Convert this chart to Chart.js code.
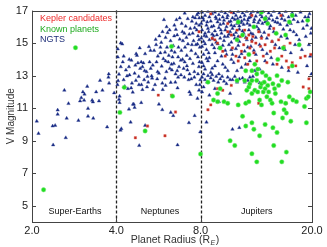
<!DOCTYPE html>
<html>
<head>
<meta charset="utf-8">
<script src="https://cdn.jsdelivr.net/npm/chart.js"></script>
<title>V magnitude vs planet radius</title>
<style>
html, body { margin: 0; padding: 0; background: #fff; }
#wrap { width: 327px; height: 247px; }
</style>
</head>
<body>
<div id="wrap"><canvas id="c"></canvas></div>
<script>
// axis ticks and regions
const xTicks = [2, 4, 8, 20];
const yTicks = [5, 7, 9, 11, 13, 15, 17];
const regionBounds = [4, 8];
const regionNames = ['Super-Earths', 'Neptunes', 'Jupiters'];
const regionLabelX = [2.85, 5.73, 12.7];
const seriesNames = ['Kepler candidates', 'Known planets', 'NGTS'];

// [radius, V mag]
const kepler = [
  [5.65,11.8],[6.3,11.8],[6.51,10.76],[5.17,9.9],[4.68,9.18],[5.97,9.3],[7.9,15.7],
  [8.8,15.3],[9.0,15.2],[9.2,15.0],[9.6,14.5],[9.8,14.2],[10.0,16.2],[10.0,15.7],[10.3,15.5],
  [10.4,14.7],[10.7,14.2],[10.8,15.8],[10.9,13.9],[11.1,15.4],[11.2,14.5],[11.4,14.9],[11.5,14.1],
  [11.5,15.8],[11.7,15.3],[11.8,13.7],[11.9,15.5],[12.0,14.7],[12.2,15.1],[12.3,15.4],[12.4,14.4],
  [12.6,15.0],[12.7,13.9],[12.9,15.7],[13.1,14.8],[13.2,15.3],[13.4,14.2],[13.6,14.9],[13.8,13.8],
  [14.0,15.5],[14.2,14.5],[14.4,15.1],[14.6,15.9],[14.7,14.7],[15.0,13.7],[15.2,15.2],[15.6,14.2],
  [15.9,14.8],[16.2,13.9],[16.5,13.5],[16.7,15.0],[17.0,13.8],[17.5,13.6],[18.2,14.1],[18.9,14.2],
  [19.5,12.8],[19.8,14.3],[19.5,12.2],[18.6,12.3],[9.2,12.2],[9.6,12.1],[8.7,11.2],[8.5,10.9],
  [10.3,12.4],[12.9,11.3],[16.2,11.3],[8.7,16.8],[10.3,16.9],[12.2,16.7],[15.5,16.7]
];

const known = [
  [2.86,14.72],[2.2,5.98],[4.27,12.28],[4.12,10.74],[5.07,9.6],[6.3,14.8],[6.35,11.74],[8.0,8.18],
  [8.5,12.6],[9.2,11.9],[9.4,12.2],[9.2,11.4],[9.7,11.4],[9.4,14.7],[10.9,11.2],[10.8,12.7],
  [11.3,10.5],[11.5,12.7],[11.6,11.3],[11.6,9.9],[11.7,12.1],[11.9,12.3],[11.9,11.4],[12.0,12.5],
  [12.2,11.9],[12.2,12.7],[12.4,9.7],[12.5,12.1],[12.7,13.1],[12.7,12.7],[12.8,13.4],[12.8,12.0],
  [13.0,11.5],[13.1,12.3],[13.2,11.2],[13.2,12.5],[13.3,13.2],[13.4,12.0],[13.5,12.6],[13.6,12.2],
  [13.7,13.0],[13.8,11.7],[13.9,12.4],[14.0,12.0],[14.1,12.8],[14.2,11.5],[14.4,11.3],[14.5,12.5],
  [14.6,10.7],[14.7,12.2],[14.8,11.9],[15.0,13.0],[15.2,12.4],[15.5,11.4],[15.6,12.7],[15.7,10.4],
  [15.9,10.9],[16.1,11.3],[16.2,10.7],[16.4,12.6],[16.6,11.7],[16.8,10.2],[17.1,11.5],[17.6,11.4],
  [18.8,11.1],[19.1,11.6],[19.4,11.7],[19.7,12.0],[19.1,10.1],[10.2,9.0],[10.6,8.7],[12.2,8.2],
  [12.7,7.7],[15.6,7.7],[16.2,8.3],[14.6,8.7],[13.0,9.3],[13.6,10.0],[14.5,9.8],[15.0,9.5],
  [12.2,10.1],[10.0,11.3],[12.2,13.3],[11.6,13.3],[10.8,15.2],[10.9,16.3],[11.3,15.5],[12.4,16.0],
  [13.6,16.5],[13.9,16.2],[14.9,15.6],[16.1,15.5],[16.6,16.3],[17.0,16.7],[18.0,14.9],[19.3,16.4],
  [12.5,13.7],[11.9,14.3],[15.1,14.0],[17.0,13.6],[15.8,14.7],[13.2,16.9],[8.9,11.5]
];

const ngts = [
  // super-earths
  [2.08,10.2],[2.11,9.44],[2.37,9.9],[2.42,9.94],[2.38,8.74],[2.47,10.88],[2.47,10.62],[2.61,12.1],
  [2.64,9.18],[2.66,10.38],[2.7,11.28],[2.93,10.24],[2.97,11.44],[3.0,11.64],[3.04,12.0],[3.08,11.86],
  [3.07,11.48],[3.15,12.34],[3.17,10.98],[3.17,10.5],[3.28,11.48],[3.3,11.38],[3.31,10.38],[3.39,12.0],
  [3.47,11.44],[3.5,12.7],[3.57,12.1],[3.71,9.84],[3.76,13.1],[3.75,12.9],[3.77,12.54],[3.93,11.94],
  // neptunes
  [4.05,14.64],[4.05,14.14],[4.09,13.08],[4.06,12.68],[4.04,12.44],[4.2,14.94],[4.22,13.84],[4.15,13.54],
  [4.11,11.74],[4.09,11.54],[4.11,11.34],[4.14,9.64],[4.17,9.74],[4.25,12.74],[4.29,12.34],[4.33,13.34],
  [4.37,12.98],[4.44,13.54],[4.46,13.04],[4.53,13.94],[4.52,12.24],[4.55,12.54],[4.58,11.98],[4.59,11.24],
  [4.62,11.24],[4.65,13.14],[4.68,13.64],[4.71,14.34],[4.74,14.24],[4.78,13.78],[4.81,12.94],[4.82,12.44],
  [4.87,13.44],[4.91,13.84],[4.92,12.44],[4.91,11.34],[4.96,13.54],[4.96,12.14],[5.0,13.78],[5.03,12.74],
  [5.07,14.34],[5.13,13.24],[5.15,12.3],[5.17,12.94],[5.23,14.78],[5.26,13.84],[5.31,13.44],[5.35,12.98],
  [5.37,12.84],[5.4,13.64],[5.41,12.14],[5.46,14.54],[5.5,12.44],[5.53,15.22],[5.57,13.84],[5.62,13.24],
  [5.63,14.2],[5.68,13.14],[5.7,15.44],[5.75,14.74],[5.79,15.04],[5.81,13.58],[5.84,12.54],[5.86,12.14],
  [5.89,14.04],[5.92,16.44],[5.97,12.84],[5.97,14.44],[6.0,15.34],[6.04,13.24],[6.07,14.74],[6.1,15.64],
  [6.13,13.84],[6.16,14.24],[6.21,13.44],[6.25,15.14],[6.26,12.58],[6.3,14.54],[6.32,13.34],[6.35,14.14],
  [6.39,14.84],[6.42,13.74],[6.44,15.44],[6.47,14.44],[6.51,13.1],[6.53,15.84],[6.56,16.44],[6.62,12.24],
  [6.65,14.14],[6.67,14.74],[6.7,13.54],[6.74,15.24],[6.8,13.94],[6.81,13.04],[6.83,14.54],[6.89,15.7],
  [6.92,15.14],[6.96,13.44],[7.02,13.84],[7.04,14.74],[7.08,16.04],[7.12,15.34],[7.14,14.24],[7.18,13.34],
  [7.21,14.94],[7.25,12.74],[7.29,15.54],[7.33,14.04],[7.37,11.84],[7.41,14.54],[7.45,16.34],[7.51,13.74],
  [7.55,15.14],[7.6,13.24],[7.62,15.94],[7.68,14.34],[7.72,12.44],[7.77,16.74],[7.83,15.44],[7.89,13.54],
  [7.91,16.1],[7.95,14.74],[7.83,14.14],[7.62,10.54],[7.27,10.1],[6.62,8.74],[5.84,10.9],[6.26,10.74],
  [5.68,11.24],[6.39,10.54],[5.07,9.94],[4.83,8.7],[4.65,11.04],[4.5,10.14],[4.44,10.94],
  [7.91,16.54],[7.8,14.94],[7.93,13.84],[7.83,13.1],[7.98,12.74],[7.72,16.2],[7.51,16.6],[7.02,16.84],
  [6.74,16.54],[7.31,13.1],[7.41,12.8],[6.65,12.9],[7.95,12.44],[7.98,9.54],[8.4,10.14],
  [5.85,15.7],[6.05,16.0],[6.2,15.8],[6.45,16.1],[6.6,15.5],[6.85,16.2],[7.0,15.6],[7.2,16.5],
  [7.35,15.9],[7.5,15.6],[7.65,16.55],[7.75,15.8],[7.85,16.85],[7.9,15.2],[7.7,14.9],[7.45,14.9],
  [7.15,13.6],[6.9,14.0],[6.6,13.3],[6.3,13.7],[6.0,13.9],[5.75,14.4],[5.55,14.9],[5.3,14.55],
  [5.05,13.3],[4.85,14.7],[4.45,14.0],[4.25,14.2],[4.15,15.0],[4.4,12.2],[4.7,12.7],[5.2,12.6],
  [5.6,12.8],[6.0,12.4],[6.5,12.6],[7.0,12.9],[7.6,12.9],[7.9,12.1],[7.8,11.6],[7.3,12.0],
  // jupiters
  [8.1,16.9],[8.3,16.7],[8.5,16.95],[8.6,16.6],[8.8,16.8],[9.0,16.9],[9.1,16.5],[9.3,16.75],
  [9.5,16.95],[9.6,16.6],[9.8,16.85],[10.0,16.7],[10.2,16.95],[10.4,16.55],[10.5,16.85],[10.7,16.7],
  [10.9,16.95],[11.1,16.6],[11.3,16.85],[11.5,16.7],[11.7,16.95],[11.9,16.55],[12.1,16.8],[12.3,16.95],
  [12.6,16.65],[12.8,16.9],[13.1,16.75],[13.4,16.95],[13.7,16.6],[14.0,16.85],[14.3,16.7],[14.6,16.95],
  [15.0,16.55],[15.3,16.85],[15.7,16.7],[16.1,16.95],[16.5,16.6],[17.0,16.85],[17.5,16.7],[18.2,16.9],
  [18.9,16.6],[19.6,16.8],
  [8.05,16.2],[8.2,16.4],[8.4,16.1],[8.7,16.35],[8.9,16.05],[9.2,16.3],[9.4,16.15],[9.7,16.4],
  [9.9,16.0],[10.1,16.3],[10.3,16.1],[10.6,16.45],[10.8,16.2],[11.0,16.05],[11.2,16.35],[11.4,16.15],
  [11.8,16.4],[12.0,16.1],[12.4,16.3],[12.7,16.0],[13.0,16.4],[13.3,16.2],[13.8,16.35],[14.2,16.05],
  [14.8,16.3],[15.4,16.15],[16.0,16.4],[16.8,16.2],[17.8,16.3],[19.2,16.1],[19.9,15.9],
  [8.1,15.8],[8.3,15.6],[8.5,15.9],[8.8,15.55],[9.0,15.75],[9.3,15.95],[9.5,15.6],[9.8,15.8],
  [10.1,15.55],[10.4,15.9],[10.7,15.65],[11.0,15.85],[11.4,15.6],[11.9,15.8],[12.3,15.55],[12.9,15.85],
  [13.5,15.65],[14.1,15.9],[14.9,15.6],[15.8,15.85],[17.2,15.7],[18.6,15.9],[19.8,15.6],
  [8.05,15.3],[8.2,15.1],[8.4,15.4],[8.6,15.2],[8.9,15.45],[9.1,15.05],[9.4,15.3],[9.7,15.15],
  [10.0,15.4],[10.3,15.05],[10.6,15.3],[11.0,15.1],[11.6,15.35],[12.2,15.2],[13.2,15.4],[14.4,15.1],
  [16.3,15.3],[18.0,15.2],[19.5,14.9],
  [8.1,14.8],[8.2,14.3],[8.4,14.6],[8.6,14.1],[8.8,14.9],[9.0,14.4],[9.3,14.7],[9.5,14.2],
  [9.8,14.55],[10.1,14.9],[10.4,14.3],[10.7,14.65],[11.0,14.15],[11.5,14.5],[12.1,14.8],[12.6,14.3],
  [13.3,14.6],[14.3,14.1],[15.3,14.7],[16.8,14.4],[18.4,14.6],[19.7,14.2],
  [8.1,13.8],[8.3,13.4],[8.5,13.9],[8.7,13.2],[9.0,13.6],[9.3,13.1],[9.6,13.7],[10.0,13.3],
  [10.5,13.8],[11.2,13.5],[12.0,13.9],[13.0,13.4],[14.5,13.7],[16.5,13.3],[19.2,13.6],[19.9,13.1],
  [8.1,12.9],[8.3,12.75],[8.5,13.0],[8.7,12.85],[8.9,12.7],[9.1,12.95],[9.4,12.8],[9.7,12.65],
  [10.0,12.9],[10.4,12.75],[10.8,12.6],[11.3,12.85],[11.8,12.7],[12.3,12.95],[13.0,12.55],
  [8.2,12.3],[8.6,11.8],[9.3,11.4],[10.2,11.9],[10.4,9.7],[11.0,9.8],[8.1,12.0],[9.0,12.2],[11.6,11.3],
  [8.15,16.55],[8.45,16.3],[8.75,16.0],[9.05,16.6],[9.35,16.45],[9.65,16.2],[9.95,16.55],[10.25,16.35],
  [10.55,16.05],[10.85,16.5],[11.15,16.25],[11.45,16.45],[11.75,16.2],[12.05,16.6],[12.45,16.45],[12.85,16.25],
  [13.25,16.6],[13.6,16.3],[14.05,16.5],[14.5,16.4],[15.1,16.25],[15.6,16.5],[16.3,16.1],[17.2,16.45],
  [18.5,16.35],[19.4,16.6],
  [8.25,15.45],[8.55,15.7],[8.85,15.25],[9.15,15.5],[9.45,15.8],[9.75,15.4],[10.2,15.7],[10.5,15.5],
  [10.9,15.4],[11.3,15.75],[11.7,15.2],[12.1,15.6],[12.6,15.35],[13.0,15.7],[13.8,15.3],[14.6,15.7],
  [15.5,15.4],[16.7,15.8],[17.6,15.5],[19.0,15.4],
  [8.3,14.95],[8.55,14.4],[8.95,14.7],[9.2,14.95],[9.6,14.85],[9.9,14.3],[10.3,14.6],[10.9,14.85],
  [11.2,14.35],[11.8,14.75],[12.4,14.55],[13.0,14.9],[13.8,14.35],[14.8,14.9],[16.0,14.6],[17.4,14.9],
  [8.2,13.6],[8.4,14.05],[8.8,13.45],[9.2,13.9],[9.8,13.5],[10.3,14.0],[10.8,13.3],[11.6,13.7],
  [12.5,13.3],[13.6,13.9],[15.6,13.5],[17.8,13.2],
  [8.2,13.1],[8.45,12.6],[8.8,13.05],[9.25,12.6],[9.55,12.95],[9.9,12.5],[10.2,12.75],[10.6,12.95],
  [11.0,12.8],[11.5,12.6],[12.0,12.9]
];

const toPts = arr => arr.map(p => ({ x: p[0], y: p[1] }));
const FONT = '"Liberation Sans", Arial, sans-serif';

const frame = {
  id: 'frame',
  beforeDatasetsDraw(chart) {
    const { ctx, chartArea: a, scales: { x, y } } = chart;
    ctx.save();
    // region boundaries
    ctx.strokeStyle = '#222';
    ctx.lineWidth = 1.3;
    ctx.setLineDash([3, 2]);
    regionBounds.forEach(v => {
      const px = Math.round(x.getPixelForValue(v)) + 0.5;
      ctx.beginPath();
      ctx.moveTo(px, a.top);
      ctx.lineTo(px, a.bottom);
      ctx.stroke();
    });
    ctx.setLineDash([]);
    // region names
    ctx.fillStyle = '#111';
    ctx.font = '9px ' + FONT;
    ctx.textAlign = 'center';
    ctx.textBaseline = 'middle';
    regionNames.forEach((n, i) => {
      ctx.fillText(n, x.getPixelForValue(regionLabelX[i]), y.getPixelForValue(4.64));
    });
    ctx.restore();
  },
  afterDraw(chart) {
    const { ctx, chartArea: a, scales: { x, y } } = chart;
    ctx.save();
    ctx.strokeStyle = '#444';
    ctx.lineWidth = 1;
    ctx.strokeRect(Math.round(a.left) + 0.5, Math.round(a.top) + 0.5,
      Math.round(a.right - a.left), Math.round(a.bottom - a.top));
    // inward ticks
    ctx.beginPath();
    yTicks.forEach(v => {
      const py = Math.round(y.getPixelForValue(v)) + 0.5;
      ctx.moveTo(a.left, py); ctx.lineTo(a.left + 4, py);
      ctx.moveTo(a.right, py); ctx.lineTo(a.right - 4, py);
    });
    xTicks.forEach(v => {
      const px = Math.round(x.getPixelForValue(v)) + 0.5;
      ctx.moveTo(px, a.bottom); ctx.lineTo(px, a.bottom - 4);
      ctx.moveTo(px, a.top); ctx.lineTo(px, a.top + 4);
    });
    ctx.stroke();

    // legend, text only
    const legendColors = ['#ee2a2a', '#1faa1f', '#1e2e78'];
    ctx.font = '9px ' + FONT;
    ctx.textAlign = 'left';
    ctx.textBaseline = 'middle';
    seriesNames.forEach((n, i) => {
      ctx.fillStyle = legendColors[i];
      ctx.fillText(n, a.left + 8, a.top + 8 + i * 10.5);
    });

    // axis titles
    ctx.fillStyle = '#333';
    ctx.font = '10.5px ' + FONT;
    const main = 'Planet Radius (R';
    const w1 = ctx.measureText(main).width;
    const w3 = ctx.measureText(')').width;
    ctx.font = 'italic 7px ' + FONT;
    const w2 = ctx.measureText('E').width;
    const tx = 175 - (w1 + w2 + w3 + 1) / 2;
    const ty = 240.5;
    ctx.font = '10.5px ' + FONT;
    ctx.fillText(main, tx, ty);
    ctx.fillText(')', tx + w1 + w2 + 1, ty);
    ctx.font = 'italic 7px ' + FONT;
    ctx.fillText('E', tx + w1 + 0.5, ty + 3);

    ctx.translate(11, (a.top + a.bottom) / 2);
    ctx.rotate(-Math.PI / 2);
    ctx.textAlign = 'center';
    ctx.font = '10px ' + FONT;
    ctx.fillText('V Magnitude', 0, 0);
    ctx.restore();
  }
};

new Chart(document.getElementById('c'), {
  type: 'scatter',
  data: {
    datasets: [
      {
        label: seriesNames[1],
        data: toPts(known),
        pointStyle: 'circle',
        pointRadius: 2.2,
        backgroundColor: '#22dd22',
        borderColor: '#7be87b',
        borderWidth: 0.5
      },
      {
        label: seriesNames[0],
        data: toPts(kepler),
        pointStyle: 'rect',
        pointRadius: 1.7,
        backgroundColor: '#c42820',
        borderColor: '#dd6655',
        borderWidth: 0.4
      },
      {
        label: seriesNames[2],
        data: toPts(ngts),
        pointStyle: 'triangle',
        pointRadius: 2,
        backgroundColor: '#112580',
        borderColor: '#3a4a98',
        borderWidth: 0.4
      }
    ]
  },
  options: {
    responsive: true,
    maintainAspectRatio: false,
    animation: false,
    layout: { padding: { left: 0, right: 15, top: 5, bottom: 0 } },
    plugins: {
      legend: { display: false },
      tooltip: { enabled: false }
    },
    scales: {
      x: {
        type: 'logarithmic',
        min: 2,
        max: 20,
        grid: { display: false, drawTicks: false },
        border: { display: false },
        afterBuildTicks: s => { s.ticks = xTicks.map(v => ({ value: v })); },
        afterFit: s => { s.height = 25; },
        ticks: {
          autoSkip: false,
          maxRotation: 0,
          padding: 2,
          color: '#222',
          font: { family: FONT, size: 11 },
          callback: v => Number(v).toFixed(1)
        }
      },
      y: {
        min: 4,
        max: 17,
        grid: { display: false, drawTicks: false },
        border: { display: false },
        afterBuildTicks: s => { s.ticks = yTicks.map(v => ({ value: v })); },
        afterFit: s => { s.width = 32; },
        ticks: {
          padding: 4,
          color: '#222',
          font: { family: FONT, size: 11 }
        }
      }
    }
  },
  plugins: [frame]
});
</script>
</body>
</html>
